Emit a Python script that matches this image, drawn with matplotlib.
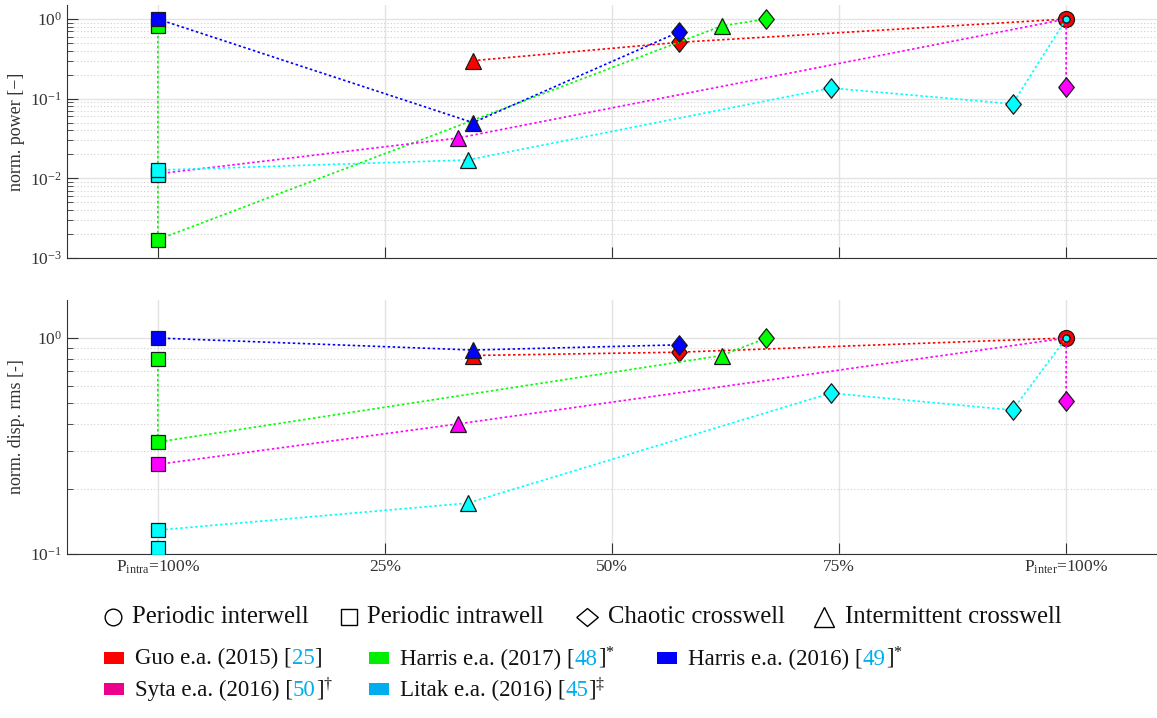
import matplotlib
matplotlib.use("Agg")
import matplotlib.pyplot as plt
from matplotlib.lines import Line2D
from matplotlib.patches import Rectangle
from matplotlib.ticker import LogLocator, NullFormatter
from matplotlib.offsetbox import TextArea, DrawingArea, HPacker, AnnotationBbox

plt.rcParams['font.family'] = ['Liberation Serif', 'DejaVu Serif']
plt.rcParams['mathtext.fontset'] = 'custom'
plt.rcParams['mathtext.rm'] = 'Liberation Serif'
plt.rcParams['mathtext.it'] = 'Liberation Serif:italic'

# data: x = fraction between intrawell (0) and interwell (1) regime
names = ["Guo e.a. (2015)", "Harris e.a. (2017)", "Harris e.a. (2016)",
         "Syta e.a. (2016)", "Litak e.a. (2016)"]
refs = ["25", "48", "49", "50", "45"]
notes = ["", "*", "*", "\\dagger", "\\ddagger"]
line_colors = ["#ff0000", "#00ff00", "#0000ff", "#ff00ff", "#00ffff"]
legend_colors = ["#ff0000", "#00ee00", "#0000ff", "#ec008c", "#00aeef"]

guo_x = [0.347, 0.574, 1.0]
guo_power = [0.30, 0.51, 1.0]
guo_disp = [0.83, 0.86, 1.0]
guo_kind = ["^", "D", "o"]

harris17_x = [0.0, 0.0, 0.621, 0.670]
harris17_power = [0.82, 0.0017, 0.82, 1.0]
harris17_disp = [0.80, 0.33, 0.83, 1.0]
harris17_kind = ["s", "s", "^", "D"]

harris16_x = [0.0, 0.347, 0.574]
harris16_power = [1.0, 0.050, 0.69]
harris16_disp = [1.0, 0.88, 0.93]
harris16_kind = ["s", "^", "D"]

syta_x = [0.0, 0.330, 1.0, 1.0]
syta_power = [0.0114, 0.032, 1.0, 0.14]
syta_disp = [0.26, 0.40, 1.0, 0.51]
syta_kind = ["s", "^", "o", "D"]

litak_x = [0.0, 0.0, 0.341, 0.741, 0.941, 1.0]
litak_power = [0.011, 0.0127, 0.017, 0.136, 0.086, 1.0]
litak_disp = [0.107, 0.129, 0.172, 0.556, 0.464, 1.0]
litak_kind = ["s", "s", "^", "D", "D", "o"]

series = [
    (guo_x, guo_power, guo_disp, guo_kind),
    (harris17_x, harris17_power, harris17_disp, harris17_kind),
    (harris16_x, harris16_power, harris16_disp, harris16_kind),
    (syta_x, syta_power, syta_disp, syta_kind),
    (litak_x, litak_power, litak_disp, litak_kind),
]

xticks = [0, 0.25, 0.5, 0.75, 1.0]
xticklabels = ["P$_{\\mathrm{intra}}$=100%", "25%", "50%", "75%",
               "P$_{\\mathrm{inter}}$=100%"]

diamond = [(-0.8, 0), (0, 1), (0.8, 0), (0, -1), (-0.8, 0)]
wide_diamond = [(-1.2, 0), (0, 1), (1.2, 0), (0, -1), (-1.2, 0)]
shape = {"s": ("s", 10), "^": ("^", 12), "D": (diamond, 14), "o": ("o", 11)}
circle_size = [11.5, 0, 0, 5, 5]

fig = plt.figure(figsize=(11.57, 7.18), dpi=100)
W, H = 1157, 718
ax1 = fig.add_axes([67 / W, 1 - 258 / H, 1 - 67 / W, 253 / H])
ax2 = fig.add_axes([67 / W, 1 - 554 / H, 1 - 67 / W, 254 / H])

for ax, col in [(ax1, 1), (ax2, 2)]:
    for i, s in enumerate(series):
        x, y, kinds = s[0], s[col], s[3]
        ax.plot(x, y, color=line_colors[i], ls=(0, (1.5, 1.5)), lw=1.2, zorder=2 + i)
        for xi, yi, k in zip(x, y, kinds):
            m, ms = shape[k]
            if k == "o":
                ms = circle_size[i]
            ax.plot([xi], [yi], marker=m, ms=ms, mfc=line_colors[i], mec="#1a1a1a",
                    mew=0.9, ls="none", zorder=3 + i)
    ax.set_yscale("log")
    ax.set_xlim(-0.1, 1.1)
    ax.set_xticks(xticks)
    ax.spines["top"].set_visible(False)
    ax.spines["right"].set_visible(False)
    for sp in ["left", "bottom"]:
        ax.spines[sp].set_color("#333333")
    ax.tick_params(which="major", direction="in", length=8, color="#333333",
                   labelsize=12.5, labelcolor="#333333")
    ax.tick_params(which="minor", direction="in", length=4, color="#333333")
    ax.yaxis.set_minor_locator(LogLocator(base=10, subs=range(2, 10)))
    ax.yaxis.set_minor_formatter(NullFormatter())
    ax.grid(which="major", color="#e3e3e3", lw=1.0, ls="-")
    ax.grid(which="minor", axis="y", color="#cfcfcf", lw=0.8, ls=(0, (1, 2)))
    ax.set_axisbelow(True)

ax1.set_ylim(1e-3, 1.5)
ax1.set_xticklabels([])
ax1.set_ylabel("norm. power [\u2212]", fontsize=13, color="#333333")
ax2.set_ylim(0.1, 1.5)
ax2.set_yticks([0.1, 1.0])
ax2.set_xticklabels(xticklabels)
ax2.set_ylabel("norm. disp. rms [-]", fontsize=13, color="#333333")

# regime legend (hollow marker + label)
regime_labels = ["Periodic interwell", "Periodic intrawell", "Chaotic crosswell",
                 "Intermittent crosswell"]
regime_marks = [("o", 12), ("s", 12), (wide_diamond, 15.5), ("^", 15)]
mark_x = [113, 349, 587, 824]
text_x = [132, 367, 608, 845]
ry = 1 - 617 / H
for (m, ms), mx, tx, lab in zip(regime_marks, mark_x, text_x, regime_labels):
    fig.add_artist(Line2D([mx / W], [ry], transform=fig.transFigure, ls="none",
                          marker=m, ms=ms, mfc="none", mec="black", mew=1.0))
    fig.text(tx / W, ry, lab, fontsize=17.8, va="center", ha="left", color="#111111")

# study legend with coloured reference numbers
pt = 72 / 100
col_x = [104, 369, 657, 104, 369]
row_y = [658, 658, 658, 689, 689]
for i in range(5):
    da = DrawingArea(20 * pt, 12 * pt, 0, 0)
    da.add_artist(Rectangle((0, 0), 20 * pt, 12 * pt, fc=legend_colors[i], ec="none"))
    tp = dict(fontsize=16.5, color="#111111")
    parts = [TextArea(names[i] + " [", textprops=tp),
             TextArea(refs[i], textprops=dict(fontsize=16.5, color="#00aeef")),
             TextArea("]" + ("$^{%s}$" % notes[i] if notes[i] else ""), textprops=tp)]
    text = HPacker(children=parts, sep=0, pad=0, align="baseline")
    box = HPacker(children=[da, text], sep=11 * pt, pad=0, align="center")
    ab = AnnotationBbox(box, (col_x[i] / W, 1 - row_y[i] / H), xycoords="figure fraction",
                        box_alignment=(0, 0.5), frameon=False, pad=0)
    fig.add_artist(ab)

fig.savefig("out.png", dpi=100)
